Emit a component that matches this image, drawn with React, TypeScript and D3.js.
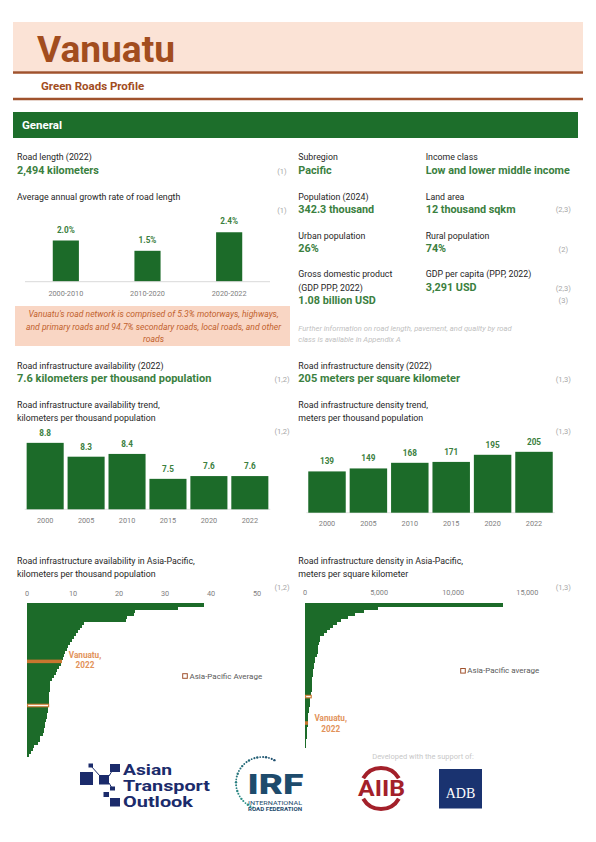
import React from "react";
import * as d3 from "d3";

// ---------- data ----------
const growthPeriods = ["2000-2010", "2010-2020", "2020-2022"];
const growthRates = [2.0, 1.5, 2.4];

const trendYears = ["2000", "2005", "2010", "2015", "2020", "2022"];
const availabilityTrend = [8.8, 8.3, 8.4, 7.5, 7.6, 7.6];
const densityTrend = [139, 149, 168, 171, 195, 205];

// Asia-Pacific road infrastructure availability (km per thousand population), other economies
const apAvailabilityOthers = [
  38.5, 32.9, 23.5, 23.3, 21.8, 21.6, 12.4, 12.0, 11.5, 11.1, 10.6, 10.2, 9.8, 9.3, 8.9, 8.6, 8.2, 8.0, 7.8,
  7.3, 7.0, 6.6, 6.2, 5.8, 5.4, 5.1, 5.0, 4.9, 4.9, 4.8, 4.8, 4.8, 4.75,
  4.6, 4.5, 4.4, 4.3, 4.2, 4.0, 3.9, 3.8, 3.7, 3.4, 2.9, 2.8, 2.4, 1.5, 1.3, 0.8, 0.5,
];
const vanuatuAvailability = 7.6;
const apAvailabilityAverage = 4.7;
const apAvailabilityTicks = [0, 10, 20, 30, 40, 50];

// Asia-Pacific road infrastructure density (m per sq km), other economies
const apDensityOthers = [
  13380, 4950, 3990, 3380, 2930, 2410, 2140, 1900, 1690, 1465, 1300, 1014, 980, 950, 900, 880, 860, 800,
  676, 660, 640, 620, 563, 550, 540, 460, 455, 450, 445, 440, 430,
  340, 335, 330, 250, 240, 230, 225, 215,
  180, 160, 150, 130, 110, 90, 70, 50,
];
const vanuatuDensity = 205;
const apDensityAverage = 420;
const apDensityTicks = [0, 5000, 10000, 15000];

// ---------- styles ----------
const FONT = "Roboto, 'Open Sans', sans-serif";
const GREEN_BAR = "#1C6B29";
const GREEN_TEXT = "#3B8040";
const BROWN = "#A24D1E";
const GRAY = "#808080";
const SRC_GRAY = "#A6A6A6";
const LABEL = "#262626";
const HIGHLIGHT = "#C8762F";
const HIGHLIGHT_TEXT = "#E2925A";
const LBL = 8.8;
const VAL = 10.8;

type Entry = { v: number; kind: "other" | "vu" | "avg" };

function buildEntries(others: number[], vu: number, avg: number): Entry[] {
  const list: Entry[] = others.map((v) => ({ v, kind: "other" as const }));
  list.push({ v: vu, kind: "vu" });
  list.push({ v: avg, kind: "avg" });
  return list.sort((a, b) => b.v - a.v);
}

const T = (p: {
  x: number;
  y: number;
  s?: number;
  w?: number | string;
  c?: string;
  a?: "start" | "middle" | "end";
  i?: boolean;
  tl?: number;
  children: React.ReactNode;
}) => (
  <text
    x={p.x}
    y={p.y}
    fontSize={p.s ?? LBL}
    fontWeight={p.w ?? 400}
    fill={p.c ?? LABEL}
    textAnchor={p.a ?? "start"}
    fontStyle={p.i ? "italic" : "normal"}
    dominantBaseline="central"
    fontFamily={FONT}
    textLength={p.tl}
    lengthAdjust={p.tl ? "spacingAndGlyphs" : undefined}
  >
    {p.children}
  </text>
);

function GrowthChart() {
  const x = d3.scaleBand<string>().domain(growthPeriods).range([25, 270]).paddingInner(0.68).paddingOuter(0.34);
  const y = d3.scaleLinear().domain([0, 2.5]).range([281.7, 230.2]);
  return (
    <g>
      {growthPeriods.map((p, i) => (
        <g key={p}>
          <rect x={x(p)} y={y(growthRates[i])} width={x.bandwidth()} height={y(0) - y(growthRates[i])} fill={GREEN_BAR} />
          <T x={x(p)! + x.bandwidth() / 2} y={y(growthRates[i]) - 11} s={8.2} w={700} c={GREEN_TEXT} a="middle">
            {d3.format(".1f")(growthRates[i])}%
          </T>
          <T x={x(p)! + x.bandwidth() / 2} y={293.3} s={7.3} c={GRAY} a="middle">
            {p}
          </T>
        </g>
      ))}
      <line x1={25} x2={270} y1={y(0)} y2={y(0)} stroke="#D9D9D9" strokeWidth={1} />
    </g>
  );
}

function TrendChart(props: {
  values: number[];
  range: [number, number];
  domain: [number, number];
  yRange: [number, number];
  labelY: number;
  fmt: (v: number) => string;
}) {
  const x = d3.scaleBand<string>().domain(trendYears).range(props.range).paddingInner(0.095).paddingOuter(0.0475);
  const y = d3.scaleLinear().domain(props.domain).range(props.yRange);
  const base = props.yRange[0];
  return (
    <g>
      <line x1={props.range[0]} x2={props.range[1]} y1={base} y2={base} stroke="#E3E3E3" strokeWidth={1} />
      {trendYears.map((yr, i) => (
        <g key={yr}>
          <rect x={x(yr)} y={y(props.values[i])} width={x.bandwidth()} height={base - y(props.values[i])} fill={GREEN_BAR} />
          <T x={x(yr)! + x.bandwidth() / 2} y={y(props.values[i]) - 10} s={8.2} w={700} c={GREEN_TEXT} a="middle">
            {props.fmt(props.values[i])}
          </T>
          <T x={x(yr)! + x.bandwidth() / 2} y={props.labelY} s={7.3} c={GRAY} a="middle">
            {yr}
          </T>
        </g>
      ))}
    </g>
  );
}

function APChart(props: {
  entries: Entry[];
  xRange: [number, number];
  xDomain: [number, number];
  ticks: number[];
  tickY: number;
  yRange: [number, number];
  tickFmt: (v: number) => string;
}) {
  const x = d3.scaleLinear().domain(props.xDomain).range(props.xRange);
  const y = d3
    .scaleBand<number>()
    .domain(props.entries.map((_, i) => i))
    .range(props.yRange)
    .padding(0);
  const bw = y.bandwidth();
  return (
    <g>
      {props.ticks.map((t) => (
        <T key={t} x={x(t)} y={props.tickY} s={7.3} c={GRAY} a="middle">
          {props.tickFmt(t)}
        </T>
      ))}
      {props.entries.map((e, i) =>
        e.kind === "other" ? (
          <rect
            key={i}
            x={x(0)}
            y={y(i)! - 1}
            width={x(e.v) - x(0)}
            height={bw + 1}
            fill={GREEN_BAR}
            shapeRendering="crispEdges"
          />
        ) : null
      )}
      {props.entries.map((e, i) =>
        e.kind === "vu" ? (
          <rect key={"v" + i} x={x(0)} y={y(i)! - 0.3} width={x(e.v) - x(0)} height={bw + 0.6} fill={HIGHLIGHT} />
        ) : e.kind === "avg" ? (
          <rect
            key={"a" + i}
            x={x(0) + 0.6}
            y={y(i)! + 0.2}
            width={x(e.v) - x(0) - 0.6}
            height={bw - 0.4}
            fill="#FFF8EC"
            stroke={HIGHLIGHT}
            strokeWidth={1.1}
          />
        ) : null
      )}
    </g>
  );
}

function Logos() {
  const navy = "#1B2B6B";
  const arcDots = d3.range(0, 30).map((i) => {
    const ang = (110 + i * 6.5) * (Math.PI / 180);
    return { cx: 262 + 26 * Math.cos(ang), cy: 783 + 26 * Math.sin(ang), r: 0.9 + (i % 3) * 0.15 };
  });
  const dotColor = d3.interpolateRgb("#2E9A8A", "#1E4E6E");
  return (
    <g>
      {/* Asian Transport Outlook */}
      <rect x={80} y={772} width={13} height={13} fill={navy} />
      <rect x={99} y={775} width={10} height={9.5} fill={navy} />
      <rect x={110} y={764} width={10} height={8} fill={navy} />
      <rect x={88.5} y={763.5} width={4.5} height={4} fill={navy} />
      <rect x={110} y={786.5} width={5} height={4} fill={navy} />
      <rect x={103.5} y={792} width={5.5} height={5} fill={navy} />
      <rect x={110} y={798} width={10} height={8.5} fill={navy} />
      <line x1={91} y1={766} x2={100} y2={776} stroke={navy} strokeWidth={1} />
      <line x1={109} y1={776} x2={112} y2={771} stroke={navy} strokeWidth={1} />
      <line x1={109} y1={783} x2={112} y2={788} stroke={navy} strokeWidth={1} />
      <T x={123} y={770.5} s={14.5} w={700} c={navy} tl={49}>Asian</T>
      <T x={123} y={786.6} s={14.5} w={700} c={navy} tl={87}>Transport</T>
      <T x={123} y={802.5} s={14.5} w={700} c={navy} tl={70}>Outlook</T>

      {/* IRF */}
      {arcDots.map((d, i) => (
        <circle key={i} cx={d.cx} cy={d.cy} r={d.r} fill={dotColor(i / 29)} />
      ))}
      <text x={247.5} y={794} fontSize={27} fontWeight={900} fill="#1E4B6C" fontFamily={FONT} textLength={56} lengthAdjust="spacingAndGlyphs">
        IRF
      </text>
      <text x={248} y={804.8} fontSize={5.8} fill="#1E4B6C" fontFamily={FONT} textLength={54} lengthAdjust="spacingAndGlyphs">
        INTERNATIONAL
      </text>
      <text x={248} y={811} fontSize={5} fontWeight={700} fill="#1E4B6C" fontFamily={FONT} textLength={54} lengthAdjust="spacingAndGlyphs">
        ROAD FEDERATION
      </text>

      {/* support */}
      <T x={423} y={756} s={7.5} c="#C8C8C8" a="middle">Developed with the support of:</T>

      {/* AIIB */}
      <path d={d3.arc()({ innerRadius: 18.5, outerRadius: 22.5, startAngle: -1.05, endAngle: 1.05 }) ?? ""} transform="translate(381,788.5)" fill="#A3202A" />
      <path d={d3.arc()({ innerRadius: 18.5, outerRadius: 22.5, startAngle: Math.PI - 1.05, endAngle: Math.PI + 1.05 }) ?? ""} transform="translate(381,788.5)" fill="#A3202A" />
      <text x={358} y={796} fontSize={22} fontWeight={700} fill="#A3202A" fontFamily={FONT} textLength={47} lengthAdjust="spacingAndGlyphs">
        AIIB
      </text>

      {/* ADB */}
      <rect x={439} y={769} width={43} height={39.5} fill="#1A3370" />
      <text x={460.5} y={793} fontSize={14} fill="#FFFFFF" textAnchor="middle" dominantBaseline="central" fontFamily="'Liberation Serif', 'DejaVu Serif', serif">
        ADB
      </text>
    </g>
  );
}

export default function App() {
  const availEntries = buildEntries(apAvailabilityOthers, vanuatuAvailability, apAvailabilityAverage);
  const densEntries = buildEntries(apDensityOthers, vanuatuDensity, apDensityAverage);
  const vuAvailIdx = availEntries.findIndex((e) => e.kind === "vu");
  const vuDensIdx = densEntries.findIndex((e) => e.kind === "vu");
  const fmtComma = d3.format(",");

  return (
    <div style={{ position: "absolute", left: 0, top: 0 }}>
      <svg width={596} height={842} viewBox="0 0 596 842" style={{ display: "block", background: "#fff" }}>
        {/* header */}
        <rect x={13} y={22} width={570} height={49} fill="#FBE3D6" />
        <text x={37} y={62} fontSize={37} fontWeight={700} fill={BROWN} fontFamily={FONT} textLength={138} lengthAdjust="spacingAndGlyphs">
          Vanuatu
        </text>
        <line x1={13} x2={583} y1={72.5} y2={72.5} stroke="#A0522D" strokeWidth={2.6} />
        <T x={41} y={86} s={11.5} w={700} c={BROWN}>Green Roads Profile</T>
        <line x1={13} x2={583} y1={99} y2={99} stroke="#A0522D" strokeWidth={2.6} />
        <rect x={13} y={112} width={565} height={26} fill="#1D6E2B" />
        <T x={22} y={124.5} s={11.5} w={700} c="#FFFFFF">General</T>

        {/* general left */}
        <T x={17} y={157}>Road length (2022)</T>
        <T x={17} y={170} s={VAL} w={700} c={GREEN_TEXT}>2,494 kilometers</T>
        <T x={282} y={171} s={7.5} c={SRC_GRAY} a="middle">(1)</T>
        <T x={17} y={197}>Average annual growth rate of road length</T>
        <T x={282} y={210} s={7.5} c={SRC_GRAY} a="middle">(1)</T>
        <GrowthChart />
        <rect x={15} y={306} width={275} height={40} fill="#F9D6C4" />
        <T x={153.5} y={314} s={8.6} i c="#C2622E" a="middle">Vanuatu's road network is comprised of 5.3% motorways, highways,</T>
        <T x={153.5} y={326.7} s={8.6} i c="#C2622E" a="middle">and primary roads and 94.7% secondary roads, local roads, and other</T>
        <T x={153.5} y={339} s={8.6} i c="#C2622E" a="middle">roads</T>

        {/* general right */}
        <T x={298.3} y={157}>Subregion</T>
        <T x={298.3} y={170} s={VAL} w={700} c={GREEN_TEXT}>Pacific</T>
        <T x={425.7} y={157}>Income class</T>
        <T x={425.7} y={170} s={VAL} w={700} c={GREEN_TEXT}>Low and lower middle income</T>
        <T x={298.3} y={196.7}>Population (2024)</T>
        <T x={298.3} y={209} s={VAL} w={700} c={GREEN_TEXT}>342.3 thousand</T>
        <T x={425.7} y={196.7}>Land area</T>
        <T x={425.7} y={209} s={VAL} w={700} c={GREEN_TEXT}>12  thousand sqkm</T>
        <T x={563.3} y={209.7} s={7.5} c={SRC_GRAY} a="middle">(2,3)</T>
        <T x={298.3} y={235.7}>Urban population</T>
        <T x={298.3} y={248.3} s={VAL} w={700} c={GREEN_TEXT}>26%</T>
        <T x={425.7} y={235.7}>Rural population</T>
        <T x={425.7} y={248.3} s={VAL} w={700} c={GREEN_TEXT}>74%</T>
        <T x={563.3} y={249} s={7.5} c={SRC_GRAY} a="middle">(2)</T>
        <T x={298.3} y={274.3}>Gross domestic product</T>
        <T x={298.3} y={287.7}>(GDP PPP, 2022)</T>
        <T x={298.3} y={300} s={VAL} w={700} c={GREEN_TEXT}>1.08 billion USD</T>
        <T x={425.7} y={274.3}>GDP per capita (PPP, 2022)</T>
        <T x={425.7} y={287.7} s={VAL} w={700} c={GREEN_TEXT}>3,291  USD</T>
        <T x={563.3} y={288.3} s={7.5} c={SRC_GRAY} a="middle">(2,3)</T>
        <T x={563.3} y={300.7} s={7.5} c={SRC_GRAY} a="middle">(3)</T>
        <T x={298.3} y={328.3} s={7.6} i c="#BFBFBF">Further information on road length, pavement, and quality by road</T>
        <T x={298.3} y={339.3} s={7.6} i c="#BFBFBF">class is available in Appendix A</T>

        {/* availability */}
        <T x={17} y={365.7}>Road infrastructure availability (2022)</T>
        <T x={17} y={378.3} s={11} w={700} c={GREEN_TEXT}>7.6 kilometers per thousand population</T>
        <T x={282} y={379} s={7.5} c={SRC_GRAY} a="middle">(1,2)</T>
        <T x={17} y={405}>Road infrastructure availability trend,</T>
        <T x={17} y={417.7}>kilometers per thousand population</T>
        <T x={282} y={431.7} s={7.5} c={SRC_GRAY} a="middle">(1,2)</T>
        <TrendChart
          values={availabilityTrend}
          range={[24.7, 270.3]}
          domain={[6.4, 9.6]}
          yRange={[509.3, 420.7]}
          labelY={520}
          fmt={d3.format(".1f")}
        />

        {/* density */}
        <T x={298.3} y={365.7}>Road infrastructure density (2022)</T>
        <T x={298.3} y={378.3} s={11} w={700} c={GREEN_TEXT}>205 meters per square kilometer</T>
        <T x={563.3} y={379} s={7.5} c={SRC_GRAY} a="middle">(1,3)</T>
        <T x={298.3} y={405}>Road infrastructure density trend,</T>
        <T x={298.3} y={417.7}>meters per thousand population</T>
        <T x={563.3} y={431.7} s={7.5} c={SRC_GRAY} a="middle">(1,3)</T>
        <TrendChart
          values={densityTrend}
          range={[306.3, 554.7]}
          domain={[0, 250]}
          yRange={[512.7, 438.45]}
          labelY={523.3}
          fmt={d3.format("d")}
        />

        {/* Asia-Pacific availability */}
        <T x={17} y={561}>Road infrastructure availability in Asia-Pacific,</T>
        <T x={17} y={574}>kilometers per thousand population</T>
        <T x={282} y={587.7} s={7.5} c={SRC_GRAY} a="middle">(1,2)</T>
        <APChart
          entries={availEntries}
          xRange={[27, 257]}
          xDomain={[0, 50]}
          ticks={apAvailabilityTicks}
          tickY={593.3}
          yRange={[604, 757]}
          tickFmt={d3.format(",")}
        />
        <T x={85} y={604 + (vuAvailIdx - 1.6) * (153 / availEntries.length)} s={8.2} w={700} c={HIGHLIGHT_TEXT} a="middle">Vanuatu,</T>
        <T x={85} y={604 + (vuAvailIdx + 1.8) * (153 / availEntries.length)} s={8.2} w={700} c={HIGHLIGHT_TEXT} a="middle">2022</T>
        <rect x={182.7} y={673.7} width={4.6} height={4.6} fill="#fff" stroke="#A0522D" strokeWidth={1} />
        <T x={189.5} y={676} s={8} c="#595959">Asia-Pacific Average</T>

        {/* Asia-Pacific density */}
        <T x={298.3} y={561}>Road infrastructure density in Asia-Pacific,</T>
        <T x={298.3} y={574}>meters per square kilometer</T>
        <T x={563.3} y={587.7} s={7.5} c={SRC_GRAY} a="middle">(1,3)</T>
        <APChart
          entries={densEntries}
          xRange={[305, 527.3]}
          xDomain={[0, 15000]}
          ticks={apDensityTicks}
          tickY={592.3}
          yRange={[604, 748]}
          tickFmt={(v) => fmtComma(v)}
        />
        <T x={330.7} y={604 + (vuDensIdx - 1.2) * (144 / densEntries.length)} s={8.2} w={700} c={HIGHLIGHT_TEXT} a="middle">Vanuatu,</T>
        <T x={330.7} y={604 + (vuDensIdx + 2.4) * (144 / densEntries.length)} s={8.2} w={700} c={HIGHLIGHT_TEXT} a="middle">2022</T>
        <rect x={460.7} y={668.5} width={4.6} height={4.6} fill="#fff" stroke="#A0522D" strokeWidth={1} />
        <T x={467.3} y={670.8} s={8} c="#595959">Asia-Pacific average</T>

        <Logos />
      </svg>
    </div>
  );
}
